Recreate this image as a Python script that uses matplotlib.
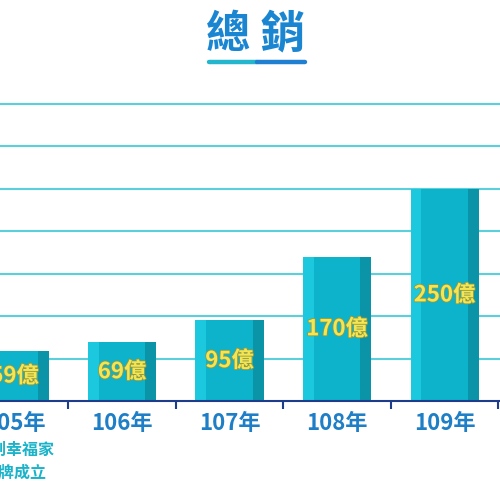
import matplotlib
matplotlib.use("Agg")
import matplotlib.pyplot as plt
import matplotlib.transforms as mtransforms
import matplotlib.patheffects as pe
from matplotlib.lines import Line2D

plt.rcParams["font.family"] = ["Noto Sans CJK TC", "DejaVu Sans"]

# data
years = ["105年", "106年", "107年", "108年", "109年"]
sales = [59, 69, 95, 170, 250]  # 億
grid_values = [50, 100, 150, 200, 250, 300, 350]
note_lines = ["開創幸福家", "品牌成立"]

BAR_MAIN = "#0db3cb"
BAR_LIGHT = "#1cc8de"
BAR_DARK = "#0b94a8"
GRID = "#5ccfdc"
NAVY = "#1d3c8c"
TICK_BLUE = "#1f7fc6"
LABEL_YELLOW = "#f4e553"

fig = plt.figure(figsize=(5, 5), dpi=100)
ax = fig.add_axes([0.0, 0.198, 1.0, 0.611])

x = list(range(len(years)))
width = 0.633
stripe = 0.102

ax.bar(x, sales, width=width, color=BAR_MAIN, zorder=3)
ax.bar([i - width / 2 + stripe / 2 for i in x], sales, width=stripe,
       color=BAR_LIGHT, zorder=4)
ax.bar([i + width / 2 - stripe / 2 for i in x], sales, width=stripe,
       color=BAR_DARK, zorder=4)

for i, v in zip(x, sales):
    ax.text(i, v / 2, f"{v}億", ha="center", va="center", fontsize=16,
            fontweight="heavy", color=LABEL_YELLOW, zorder=5,
            path_effects=[pe.withStroke(linewidth=1.2, foreground="#8f9a45")])

ax.set_yticks(grid_values)
ax.yaxis.grid(True, color=GRID, linewidth=1.5, zorder=0)
ax.tick_params(axis="y", left=False, labelleft=False)

ax.set_xticks(x)
ax.set_xticklabels(years)
ax.set_xticks([i + 0.5 for i in range(-1, len(years))], minor=True)
ax.tick_params(axis="x", which="major", length=0, pad=8, labelsize=16,
               labelcolor=TICK_BLUE)
for lab in ax.get_xticklabels():
    lab.set_fontweight("bold")
ax.tick_params(axis="x", which="minor", length=6, width=1.5, color=NAVY,
               direction="out")

# limits after ticks, so the tick setters don't widen the view
ax.set_xlim(-0.135, 4.516)
ax.set_ylim(0, 360)

for side in ["top", "left", "right"]:
    ax.spines[side].set_visible(False)
ax.spines["bottom"].set_color(NAVY)
ax.spines["bottom"].set_linewidth(1.5)
ax.spines["bottom"].set_zorder(6)

# note under the first year
trans = mtransforms.blended_transform_factory(ax.transData, fig.transFigure)
ax.text(0, 0.100, note_lines[0], transform=trans, ha="center", va="center",
        fontsize=11.5, color="#1ab3c9", fontweight="bold", clip_on=False)
ax.text(0, 0.054, note_lines[1], transform=trans, ha="center", va="center",
        fontsize=11.5, color="#1ab3c9", fontweight="bold", clip_on=False)

# title with two-tone underline
fig.text(0.512, 0.932, "總 銷", ha="center", va="center", fontsize=32,
         fontweight="heavy", color="#1a86d2")
fig.add_artist(Line2D([0.418, 0.514], [0.876, 0.876], transform=fig.transFigure,
                      color="#23b6cc", linewidth=3.2, solid_capstyle="round"))
fig.add_artist(Line2D([0.514, 0.610], [0.876, 0.876], transform=fig.transFigure,
                      color="#1f80d2", linewidth=3.2, solid_capstyle="round"))

fig.savefig("out.png", dpi=100, facecolor="white")
